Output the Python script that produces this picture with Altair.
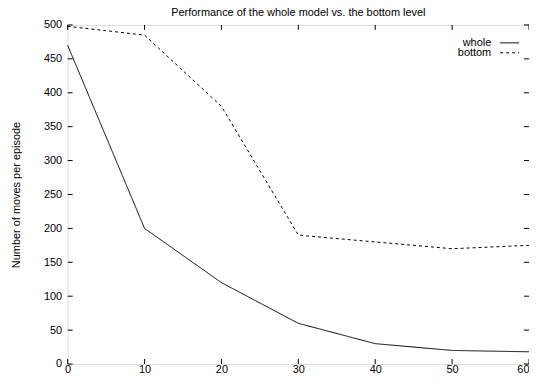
import altair as alt
import pandas as pd

episodes = [0, 10, 20, 30, 40, 50, 60]
whole = [470, 200, 120, 60, 30, 20, 18]
bottom = [498, 485, 380, 190, 180, 170, 175]
series_names = ["whole", "bottom"]
x_ticks = [0, 10, 20, 30, 40, 50, 60]
y_ticks = [0, 50, 100, 150, 200, 250, 300, 350, 400, 450, 500]

W, H = 464, 341
FONT = "Liberation Sans"

rows = []
for name, vals in zip(series_names, [whole, bottom]):
    for e, v in zip(episodes, vals):
        rows.append({"Episode": e, "Moves": v, "series": name})
df = pd.DataFrame(rows)

xs = alt.Scale(domain=[0, 60], nice=False, zero=False)
ys = alt.Scale(domain=[0, 500], nice=False)

x_axis = alt.Axis(
    title="Episode", values=x_ticks, grid=False, ticks=False, domain=False,
    labelFontSize=11, labelFont=FONT, labelColor="black", labelPadding=0,
    labelOverlap=False,
    labelAlign={"condition": {"test": "datum.value == 60", "value": "right"},
                "value": "center"},
    titleFont=FONT, titleFontSize=11, titleFontWeight="normal", titleColor="black",
    titlePadding=0)
y_axis = alt.Axis(
    title="Number of moves per episode", values=y_ticks, grid=False, ticks=False,
    domain=False, labelFontSize=11, labelFont=FONT, labelColor="black",
    labelPadding=6, labelOverlap=False, titleFont=FONT, titleFontSize=11,
    titleFontWeight="normal", titleColor="black", titlePadding=22)

lines = alt.Chart(df).mark_line(color="black", strokeWidth=1).encode(
    x=alt.X("Episode:Q", scale=xs, axis=x_axis),
    y=alt.Y("Moves:Q", scale=ys, axis=y_axis),
    strokeDash=alt.StrokeDash("series:N", scale=alt.Scale(domain=series_names,
                                                           range=[[1, 0], [3, 3]]),
                              legend=None),
    detail="series:N",
)

ydf = pd.DataFrame({"Moves": y_ticks})
xdf = pd.DataFrame({"Episode": x_ticks})
one = pd.DataFrame({"k": [0]})

ytl = alt.Chart(ydf).mark_rule(color="black", strokeWidth=1).encode(
    y=alt.Y("Moves:Q", scale=ys, axis=y_axis), x=alt.value(0), x2=alt.value(5))
ytr = alt.Chart(ydf).mark_rule(color="black", strokeWidth=1).encode(
    y=alt.Y("Moves:Q", scale=ys, axis=y_axis), x=alt.value(W - 5), x2=alt.value(W))
xtb = alt.Chart(xdf).mark_rule(color="black", strokeWidth=1).encode(
    x=alt.X("Episode:Q", scale=xs, axis=x_axis), y=alt.value(H), y2=alt.value(H - 5))
xtt = alt.Chart(xdf).mark_rule(color="black", strokeWidth=1).encode(
    x=alt.X("Episode:Q", scale=xs, axis=x_axis), y=alt.value(0), y2=alt.value(5))

legend_layers = []
dashes = [[1, 0], [3, 3]]
for i, name in enumerate(series_names):
    yy = 18 + 10 * i
    legend_layers.append(
        alt.Chart(one).mark_text(align="right", baseline="middle", font=FONT,
                                 fontSize=11, color="black").encode(
            x=alt.value(426), y=alt.value(yy), text=alt.value(name)))
    legend_layers.append(
        alt.Chart(one).mark_rule(color="black", strokeWidth=1, strokeDash=dashes[i]).encode(
            x=alt.value(435), x2=alt.value(454), y=alt.value(yy)))

chart = alt.layer(lines, ytl, ytr, xtb, xtt, *legend_layers).properties(
    width=W, height=H,
    title=alt.TitleParams("Performance of the whole model vs. the bottom level",
                          font=FONT, fontSize=11, fontWeight="normal", color="black",
                          offset=1, anchor="middle"),
    autosize=alt.AutoSizeParams(type="none"),
    padding={"left": 60, "top": 16, "right": 0, "bottom": 8},
).configure_view(stroke="black", strokeWidth=1).configure(background="white")

chart.save("out.html", embed_options={"renderer": "svg", "actions": False})
